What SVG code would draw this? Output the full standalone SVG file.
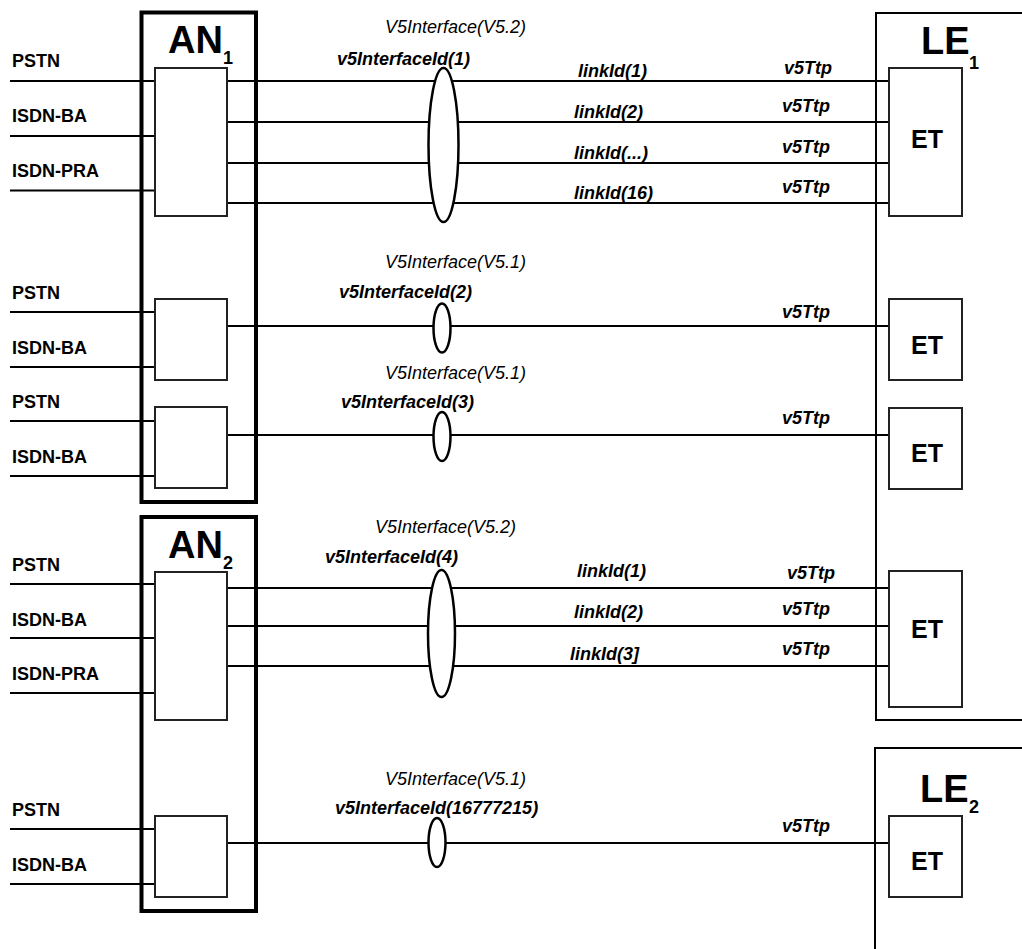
<svg xmlns="http://www.w3.org/2000/svg" width="1022" height="949" viewBox="0 0 1022 949">
<style>
text{font-family:"Liberation Sans",Arial,sans-serif;fill:#000}
.in{font-size:18px;font-weight:bold}
.big{font-size:38px;font-weight:bold}
.sub{font-size:18px;font-weight:bold}
.et{font-size:25px;font-weight:bold;text-anchor:middle}
.v5{font-size:18px;font-style:italic}
.id{font-size:18px;font-style:italic;font-weight:bold}
.an{fill:none;stroke:#000;stroke-width:4}
.box{fill:#fff;stroke:#222;stroke-width:2}
.le{fill:none;stroke:#000;stroke-width:2}
.ln{stroke:#000;stroke-width:2;fill:none}
.ell{fill:#fff;stroke:#000;stroke-width:2.5}
</style>
<rect width="1022" height="949" fill="#fff"/>

<g id="AN1">
<rect class="an" x="141.5" y="12.5" width="114.5" height="489.5"/>
<text class="big" x="168" y="53">AN</text><text class="sub" x="223" y="64" font-weight="normal">1</text>
</g>
<g id="AN2">
<rect class="an" x="141.5" y="517" width="114.5" height="394"/>
<text class="big" x="168" y="558">AN</text><text class="sub" x="223" y="569">2</text>
</g>
<g id="LE1">
<path class="le" d="M1030,13 H876 V720 H1030"/>
<text class="big" x="921" y="54">LE</text><text class="sub" x="969" y="69" font-weight="normal">1</text>
</g>
<g id="LE2">
<path class="le" d="M1030,748 H875 V960"/>
<text class="big" x="920" y="802">LE</text><text class="sub" x="969" y="813">2</text>
</g>

<g id="inputs">
<text class="in" x="12" y="67">PSTN</text>
<text class="in" x="12" y="122">ISDN-BA</text>
<text class="in" x="12" y="177">ISDN-PRA</text>
<text class="in" x="12" y="299">PSTN</text>
<text class="in" x="12" y="354">ISDN-BA</text>
<text class="in" x="12" y="408">PSTN</text>
<text class="in" x="12" y="463">ISDN-BA</text>
<text class="in" x="12" y="571">PSTN</text>
<text class="in" x="12" y="626">ISDN-BA</text>
<text class="in" x="12" y="680">ISDN-PRA</text>
<text class="in" x="12" y="816">PSTN</text>
<text class="in" x="12" y="871">ISDN-BA</text>
</g>

<g id="connectors">
<path class="ln" d="M10,81 H155 M10,136 H155 M10,190.5 H155"/>
<path class="ln" d="M10,312 H155 M10,367 H155 M10,421 H155 M10,476 H155"/>
<path class="ln" d="M10,584 H155 M10,638 H155 M10,693 H155"/>
<path class="ln" d="M10,829 H155 M10,884 H155"/>
<path class="ln" d="M227,81 H889 M227,122 H889 M227,163 H889 M227,203 H889"/>
<path class="ln" d="M227,326 H889 M227,435 H889"/>
<path class="ln" d="M227,588 H889 M227,626 H889 M227,666 H889"/>
<path class="ln" d="M227,843 H889"/>
<ellipse class="ell" cx="443.5" cy="145" rx="15" ry="77"/>
<ellipse class="ell" cx="442" cy="328" rx="8.5" ry="24.5"/>
<ellipse class="ell" cx="442" cy="436.5" rx="8.5" ry="24.5"/>
<ellipse class="ell" cx="441.5" cy="633.5" rx="13.5" ry="63.5"/>
<ellipse class="ell" cx="437" cy="842.5" rx="8.5" ry="24.5"/>
</g>

<g id="AN1-units">
<rect class="box" x="155" y="68" width="72" height="148"/>
<rect class="box" x="155" y="299" width="72" height="81"/>
<rect class="box" x="155" y="407" width="72" height="81"/>
</g>
<g id="AN2-units">
<rect class="box" x="155" y="572" width="72" height="148"/>
<rect class="box" x="155" y="816" width="72" height="81"/>
</g>

<g id="ET1"><rect class="box" x="889" y="68" width="73" height="148"/><text class="et" x="927" y="148">ET</text></g>
<g id="ET2"><rect class="box" x="889" y="299" width="73" height="81"/><text class="et" x="927" y="354">ET</text></g>
<g id="ET3"><rect class="box" x="889" y="408" width="73" height="81"/><text class="et" x="927" y="462">ET</text></g>
<g id="ET4"><rect class="box" x="889" y="571" width="73" height="136"/><text class="et" x="927" y="638">ET</text></g>
<g id="ET5"><rect class="box" x="889" y="816" width="73" height="81"/><text class="et" x="927" y="870">ET</text></g>

<g id="labels">
<text class="v5" x="385" y="33">V5Interface(V5.2)</text>
<text class="id" x="337" y="65">v5InterfaceId(1)</text>
<text class="id" x="578" y="77">linkId(1)</text>
<text class="id" x="574" y="118">linkId(2)</text>
<text class="id" x="574" y="159">linkId(...)</text>
<text class="id" x="574" y="199">linkId(16)</text>
<text class="id" x="784" y="74">v5Ttp</text>
<text class="id" x="782" y="112">v5Ttp</text>
<text class="id" x="782" y="153">v5Ttp</text>
<text class="id" x="782" y="193">v5Ttp</text>

<text class="v5" x="385" y="268">V5Interface(V5.1)</text>
<text class="id" x="339" y="298">v5InterfaceId(2)</text>
<text class="id" x="782" y="318">v5Ttp</text>

<text class="v5" x="385" y="379">V5Interface(V5.1)</text>
<text class="id" x="341" y="408">v5InterfaceId(3)</text>
<text class="id" x="782" y="424">v5Ttp</text>

<text class="v5" x="375" y="533">V5Interface(V5.2)</text>
<text class="id" x="325" y="563">v5InterfaceId(4)</text>
<text class="id" x="577" y="577">linkId(1)</text>
<text class="id" x="574" y="618">linkId(2)</text>
<text class="id" x="570" y="660">linkId(3]</text>
<text class="id" x="787" y="579">v5Ttp</text>
<text class="id" x="782" y="615">v5Ttp</text>
<text class="id" x="782" y="655">v5Ttp</text>

<text class="v5" x="385" y="785">V5Interface(V5.1)</text>
<text class="id" x="335" y="814">v5InterfaceId(16777215)</text>
<text class="id" x="782" y="832">v5Ttp</text>
</g>
</svg>
